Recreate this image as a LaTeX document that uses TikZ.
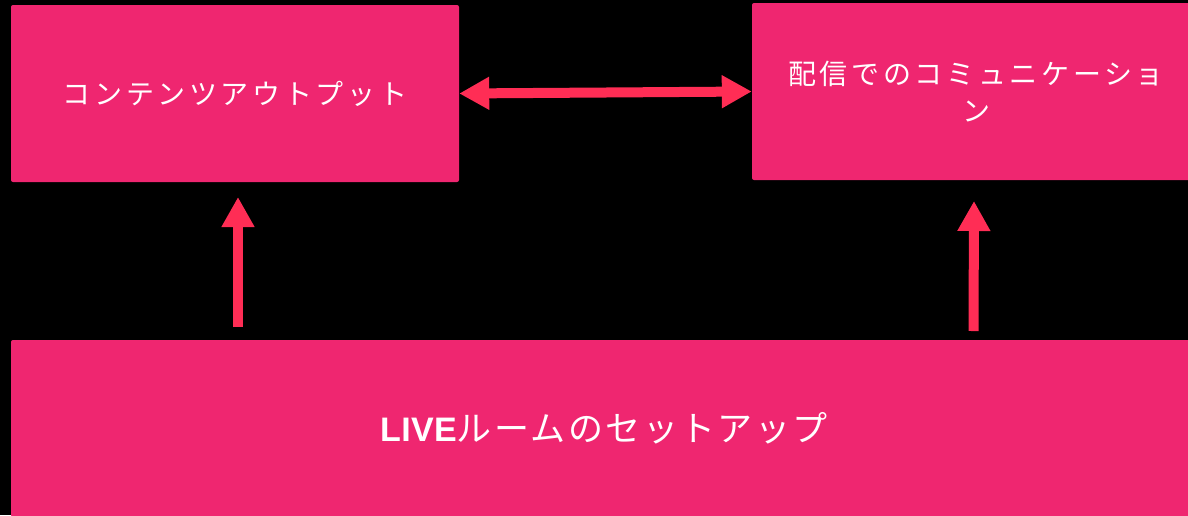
\documentclass[tikz,border=0pt]{standalone}
\usepackage{fontspec}
\setmainfont{Liberation Sans}
\newfontfamily\jpA[LetterSpace=13]{Noto Sans CJK JP}
\newfontfamily\jpB[LetterSpace=7]{Noto Sans CJK JP}
\newfontfamily\latB[LetterSpace=1]{Liberation Sans}
\usetikzlibrary{arrows.meta}
\definecolor{boxpink}{RGB}{239,38,112}
\definecolor{arrowred}{RGB}{255,45,85}
\tikzset{
  pinkbox/.style={rectangle, fill=boxpink, rounded corners=2pt, text=white, inner sep=0pt, align=center},
  uparrow/.style={draw=arrowred, line width=10pt, -{Triangle[width=31pt,length=30pt]}},
  duparrow/.style={draw=arrowred, line width=10pt, {Triangle[width=31pt,length=30pt]}-{Triangle[width=31pt,length=30pt]}},
}
\begin{document}
\begin{tikzpicture}[x=1pt,y=-1pt]
\useasboundingbox (0,0) rectangle (1188,515);
\fill[black] (0,0) rectangle (1188,515);
\node[pinkbox, minimum width=448pt, minimum height=177pt, font={\jpA\fontsize{28}{37}\selectfont}] (A) at (235,93.5) {コンテンツアウトプット};
\node[pinkbox, minimum width=448pt, minimum height=177pt, font={\jpA\fontsize{28}{37}\selectfont}] (B) at (976,91.5) {配信でのコミュニケーショ\\ン};
\node[pinkbox, minimum width=1186pt, minimum height=177pt] (C) at (604,428.5) {{\latB\bfseries\fontsize{34}{40}\selectfont LIVE}{\jpB\fontsize{35}{40}\selectfont ルームのセットアップ}};
\coordinate (l0) at (238,327);
\coordinate (l1) at (238,197);
\coordinate (r0) at (973.5,331);
\coordinate (r1) at (974,201);
\draw[duparrow] (A.east) -- (B.west);
\draw[uparrow] (l0) -- (l1);
\draw[uparrow] (r0) -- (r1);
\end{tikzpicture}
\end{document}
